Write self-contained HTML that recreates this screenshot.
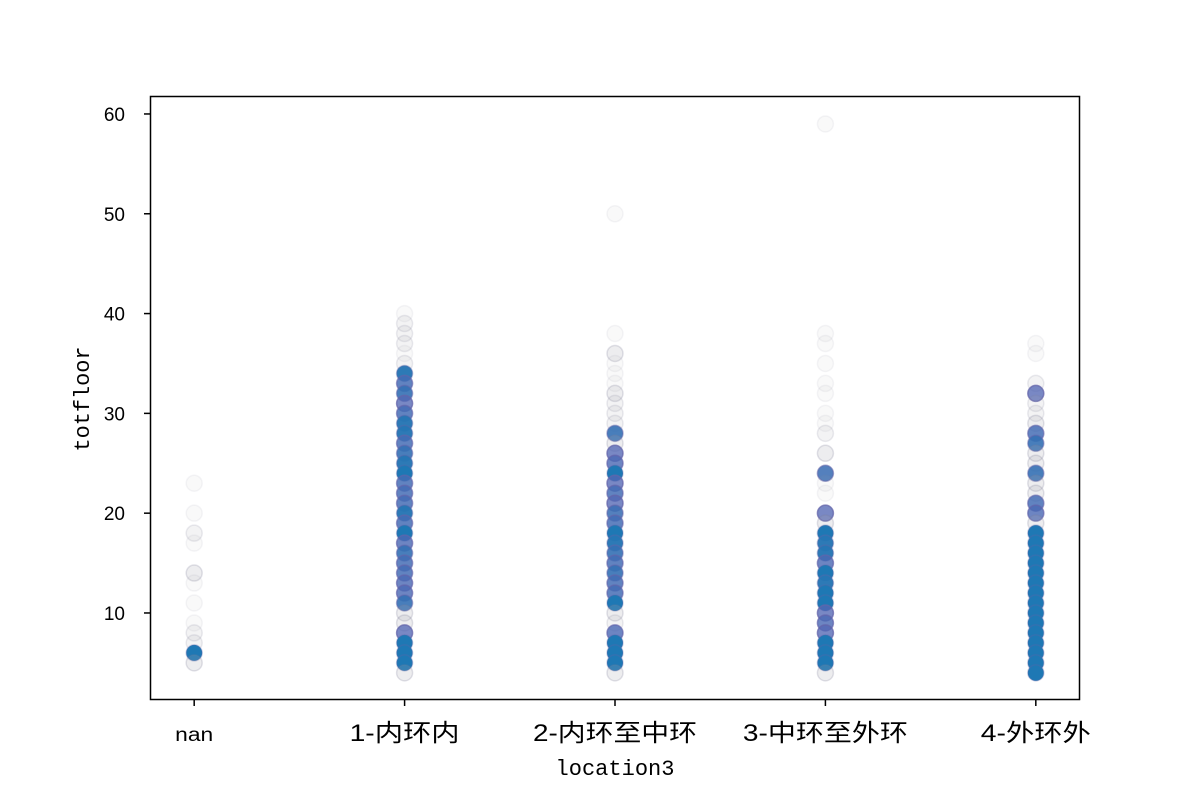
<!DOCTYPE html>
<html><head><meta charset="utf-8"><style>
html,body{margin:0;padding:0;background:#fff;width:1200px;height:800px;overflow:hidden}
svg text{fill:#000}
</style></head><body>
<svg id="chart" width="1200" height="800" xmlns="http://www.w3.org/2000/svg">
<rect x="0" y="0" width="1200" height="800" fill="#fff"/>
<g id="marks"></g>
<rect x="150.5" y="96.5" width="929" height="603" fill="none" stroke="#000" stroke-width="1.5"/>
<g id="axes"></g>
<text x="615" y="775" text-anchor="middle" font-family="Liberation Mono, monospace" font-size="22" textLength="119" lengthAdjust="spacingAndGlyphs">location3</text>
<text transform="translate(89,399) rotate(-90)" text-anchor="middle" font-family="Liberation Mono, monospace" font-size="22" textLength="105" lengthAdjust="spacingAndGlyphs">totfloor</text>
</svg>
<script>
const categories = ["nan","1-内环内","2-内环至中环","3-中环至外环","4-外环外"];
const catLabelWidths = [38,110,164,165,110];
const yTicks = [10,20,30,40,50,60];
const vals0 = [23,20,18,17,14,13,11,9,8,7,6,5];
const cnt0  = [1,1,2,1,3,1,1,1,2,2,15,3];
const vals1 = [40,39,38,37,36,35,34,33,32,31,30,29,28,27,26,25,24,23,22,21,20,19,18,17,16,15,14,13,12,11,10,9,8,7,6,5,4];
const cnt1  = [1,2,2,2,1,2,10,6,8,4,6,10,10,6,8,10,15,6,6,6,10,6,15,5,8,6,6,5,5,8,3,3,4,15,15,15,3];
const vals2 = [50,38,36,35,34,33,32,31,30,29,28,27,26,25,24,23,22,21,20,19,18,17,16,15,14,13,12,11,10,9,8,7,6,5,4];
const cnt2  = [1,1,3,1,1,1,3,2,2,2,8,3,4,5,15,4,6,4,7,6,15,10,8,6,8,6,6,15,3,2,5,15,15,15,3];
const vals3 = [59,38,37,35,33,32,30,29,28,26,24,23,22,20,19,18,17,16,15,14,13,12,11,10,9,8,7,6,5,4];
const cnt3  = [1,1,1,1,1,1,1,1,2,3,7,1,1,4,3,15,10,10,5,15,10,15,15,4,5,4,15,15,15,3];
const vals4 = [37,36,33,32,31,30,29,28,27,26,25,24,23,22,21,20,19,18,17,16,15,14,13,12,11,10,9,8,7,6,5,4];
const cnt4  = [1,1,2,4,2,2,3,6,8,3,3,8,3,3,6,5,3,15,15,15,15,15,15,15,15,12,15,15,15,15,15,15];

const NS="http://www.w3.org/2000/svg";
const X0=150,X1=1080,Y0=700,Y1=96;
const xMin=-0.21,xMax=4.21,yMin=1.28,yMax=61.8;
const xs=v=>X0+(v-xMin)/(xMax-xMin)*(X1-X0);
const ys=v=>Y0-(v-yMin)/(yMax-yMin)*(Y0-Y1);
const marks=document.getElementById('marks');
const axes=document.getElementById('axes');
const series=[[vals0,cnt0],[vals1,cnt1],[vals2,cnt2],[vals3,cnt3],[vals4,cnt4]];
series.forEach((s,ci)=>{
  const [vals,cnts]=s;
  vals.forEach((v,i)=>{
    const n=cnts[i];
    const a=1-Math.pow(0.92,n);
    const c=document.createElementNS(NS,'circle');
    
    
    c.setAttribute('cx',xs(ci));c.setAttribute('cy',ys(v));c.setAttribute('r',8);
    let fill, stroke;
    if(n>=4){
      const b=Math.min(1,(n-3)/8);
      fill=`rgba(${Math.round(90-60*b)},${Math.round(100+20*b)},${Math.round(180)},${0.75+0.25*b})`;
      stroke=`rgba(100,100,170,${0.8-0.5*b})`;
    } else {
      fill=`rgba(165,165,175,${a*0.9})`;
      stroke=`rgba(125,125,150,${a})`;
    }
    c.setAttribute('fill',fill);
    c.setAttribute('stroke',stroke);
    c.setAttribute('stroke-width','1.5');
    marks.appendChild(c);
  });
});
categories.forEach((c,i)=>{
  const t=document.createElementNS(NS,'line');
  
  
  t.setAttribute('x1',xs(i));t.setAttribute('x2',xs(i));t.setAttribute('y1',700);t.setAttribute('y2',706);
  t.setAttribute('stroke','#000');t.setAttribute('stroke-width','1.5');
  axes.appendChild(t);
  const l=document.createElementNS(NS,'text');
  
  
  l.setAttribute('x',xs(i));l.setAttribute('y',741);l.setAttribute('text-anchor','middle');
  l.setAttribute('font-family','Liberation Sans, Noto Sans CJK SC, sans-serif');
  l.setAttribute('font-size', i===0?'19':'24');
  l.setAttribute('textLength',catLabelWidths[i]);l.setAttribute('lengthAdjust','spacingAndGlyphs');
  l.textContent=c;
  axes.appendChild(l);
});
yTicks.forEach(v=>{
  const t=document.createElementNS(NS,'line');
  
  
  t.setAttribute('x1',144);t.setAttribute('x2',150);t.setAttribute('y1',ys(v));t.setAttribute('y2',ys(v));
  t.setAttribute('stroke','#000');t.setAttribute('stroke-width','1.5');
  axes.appendChild(t);
  const l=document.createElementNS(NS,'text');
  
  
  l.setAttribute('x',125);l.setAttribute('y',ys(v)+7);l.setAttribute('text-anchor','end');
  l.setAttribute('font-family','Liberation Sans, sans-serif');l.setAttribute('font-size','19');
  l.textContent=v;
  axes.appendChild(l);
});
</script>
</body></html>
